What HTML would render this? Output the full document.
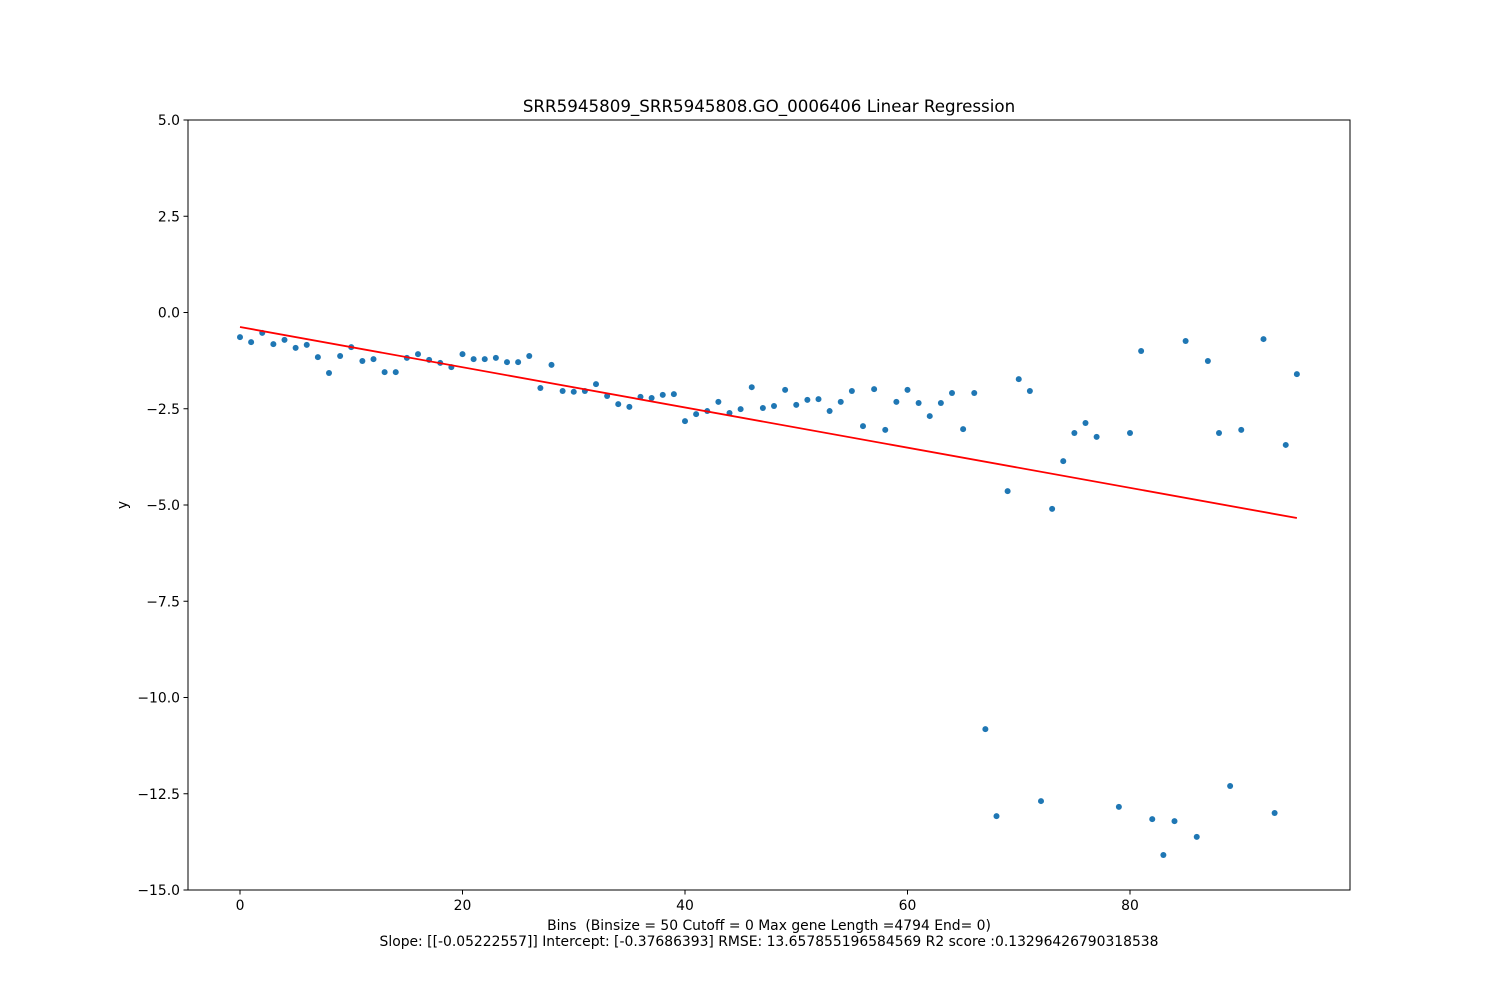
<!DOCTYPE html>
<html><head><meta charset="utf-8"><style>
body{margin:0;background:#fff;}
svg text{font-family:"DejaVu Sans","Liberation Sans",sans-serif;fill:#000;white-space:pre;}
</style></head><body>
<svg id="chart" width="1500" height="1000" xmlns="http://www.w3.org/2000/svg">
<rect x="0" y="0" width="1500" height="1000" fill="#fff"/>
<g id="plot"></g>
</svg>
<script>
const yValues=[-0.64,-0.77,-0.53,-0.82,-0.71,-0.92,-0.84,-1.16,-1.57,-1.13,-0.90,-1.26,-1.21,-1.55,-1.55,-1.18,-1.08,-1.23,-1.31,-1.42,-1.08,-1.21,-1.21,-1.18,-1.29,-1.29,-1.13,-1.96,-1.36,-2.04,-2.06,-2.04,-1.86,-2.17,-2.38,-2.45,-2.19,-2.22,-2.14,-2.12,-2.82,-2.64,-2.56,-2.32,-2.61,-2.51,-1.94,-2.48,-2.43,-2.01,-2.40,-2.27,-2.25,-2.56,-2.32,-2.04,-2.95,-1.99,-3.05,-2.32,-2.01,-2.35,-2.69,-2.35,-2.09,-3.03,-2.09,-10.82,-13.08,-4.64,-1.73,-2.04,-12.69,-5.10,-3.86,-3.13,-2.87,-3.23,null,-12.84,-3.13,-1.00,-13.16,-14.09,-13.21,-0.74,-13.62,-1.26,-3.13,-12.30,-3.05,null,-0.69,-13.00,-3.44,-1.60];
const slope=-0.05222557;
const intercept=-0.37686393;
const xTicks=[0,20,40,60,80];
const yTicks=[5,2.5,0,-2.5,-5,-7.5,-10,-12.5,-15];
const yTickLabels=["5.0","2.5","0.0","\u22122.5","\u22125.0","\u22127.5","\u221210.0","\u221212.5","\u221215.0"];

const L=188,R=1350,T=120,B=890;
const xs=v=>240+v*(1130-240)/80;
const ys=v=>T+(5-v)*(B-T)/20;
const NS="http://www.w3.org/2000/svg";
const g=document.getElementById('plot');
function mk(tag,attrs,parent){const e=document.createElementNS(NS,tag);for(const k in attrs)e.setAttribute(k,attrs[k]);(parent||g).appendChild(e);return e;}

yValues.forEach((v,i)=>{if(v===null)return;
const c=mk('circle',{cx:xs(i),cy:ys(v),r:3,fill:'#1f77b4'});

});

const ln=mk('line',{x1:xs(0),y1:ys(intercept),x2:xs(yValues.length-1),y2:ys(intercept+slope*(yValues.length-1)),stroke:'#ff0000','stroke-width':1.8});



const fr=mk('rect',{x:L,y:T,width:R-L,height:B-T,fill:'none',stroke:'#000','stroke-width':1});



xTicks.forEach(t=>{const x=xs(t);
mk('line',{x1:x,y1:B,x2:x,y2:B+4.5,stroke:'#000'});
const tx=mk('text',{x:x,y:B+20,'text-anchor':'middle','font-size':13.9});tx.textContent=t;

});
yTicks.forEach((t,i)=>{const y=ys(t);
mk('line',{x1:L-4.5,y1:y,x2:L,y2:y,stroke:'#000'});
const tx=mk('text',{x:L-8,y:y+5,'text-anchor':'end','font-size':13.9});tx.textContent=yTickLabels[i];

});

const title=mk('text',{x:769,y:112,'text-anchor':'middle','font-size':16.7});title.textContent='SRR5945809_SRR5945808.GO_0006406 Linear Regression';


const xl1=mk('text',{x:769,y:930,'text-anchor':'middle','font-size':13.9});xl1.textContent='Bins  (Binsize = 50 Cutoff = 0 Max gene Length =4794 End= 0)';


const xl2=mk('text',{x:769,y:946,'text-anchor':'middle','font-size':13.9});xl2.textContent='Slope: [[-0.05222557]] Intercept: [-0.37686393] RMSE: 13.657855196584569 R2 score :0.13296426790318538';


const yl=mk('text',{x:0,y:0,'text-anchor':'middle','font-size':13.9,transform:'translate(127,505) rotate(-90)'});yl.textContent='y';


</script>
</body></html>
